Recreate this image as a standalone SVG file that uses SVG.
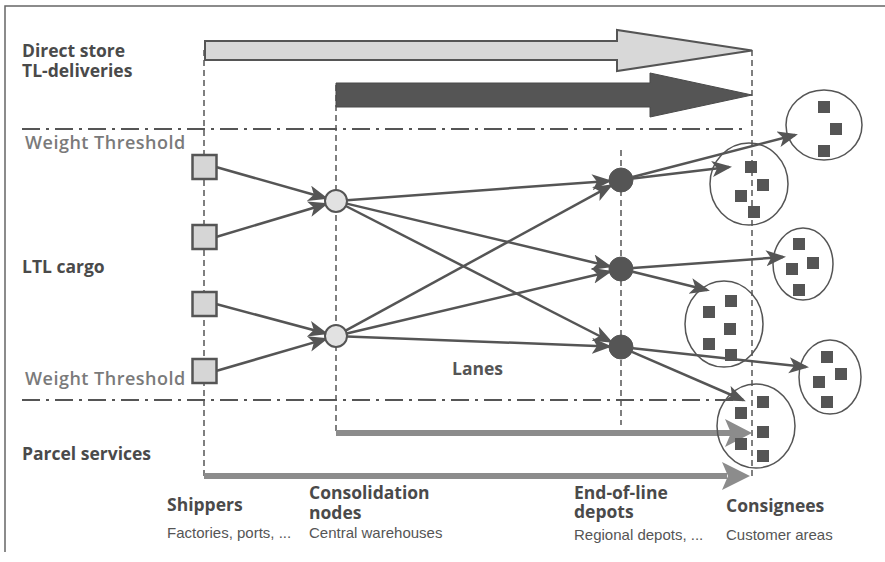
<svg xmlns="http://www.w3.org/2000/svg" width="885" height="562" viewBox="0 0 885 562">
<style>
.lbl{font-family:"Open Sans","DejaVu Sans",sans-serif;font-weight:700;font-size:17.5px;fill:#4a4a4a}
.thr{font-family:"Open Sans","DejaVu Sans",sans-serif;font-weight:600;font-size:18px;letter-spacing:0.5px;fill:#7a7a7a}
.sub{font-family:"Liberation Sans",Arial,sans-serif;font-size:15px;fill:#555}
.vdash{stroke:#555;stroke-width:1.5;stroke-dasharray:6 4;fill:none}
.hdash{stroke:#555;stroke-width:2;stroke-dasharray:18 6 3 6;fill:none}
.lane{stroke:#555;stroke-width:2.5;fill:none;marker-end:url(#ah)}
.ship{fill:#d6d6d6;stroke:#555;stroke-width:2.5}
.cons{fill:#e2e2e2;stroke:#555;stroke-width:2}
.depot{fill:#555;stroke:#555;stroke-width:1}
.area{fill:none;stroke:#555;stroke-width:1.5}
.cust{fill:#555}
</style>
<defs>
<marker id="ah" markerUnits="userSpaceOnUse" markerWidth="22" markerHeight="18" refX="17" refY="8" orient="auto">
<path d="M0,0 L20,8 L0,16 L5,8 Z" fill="#555"/>
</marker>
</defs>

<g id="frame" stroke="#666" stroke-width="1.5" fill="none">
<path d="M5,552 L5,6 L885,6"/>
</g>

<g id="guides">
<path class="vdash" d="M204,50 L204,476"/>
<path class="vdash" d="M336,85 L336,433"/>
<path class="vdash" d="M621,150 L621,425"/>
<path class="vdash" d="M752,50 L752,476"/>
<path class="hdash" d="M22,129 L745,129"/>
<path class="hdash" d="M22,400 L745,400"/>
</g>

<g id="labels">
<text class="lbl" x="22" y="57">Direct store</text>
<text class="lbl" x="22" y="77">TL-deliveries</text>
<text class="thr" x="25" y="149">Weight Threshold</text>
<text class="lbl" x="22" y="273">LTL cargo</text>
<text class="thr" x="25" y="385">Weight Threshold</text>
<text class="lbl" x="22" y="460">Parcel services</text>
<text class="lbl" x="452" y="375" style="fill:#555">Lanes</text>
<text class="lbl" x="167" y="511">Shippers</text>
<text class="lbl" x="309" y="499">Consolidation</text>
<text class="lbl" x="309" y="519">nodes</text>
<text class="lbl" x="574" y="499">End-of-line</text>
<text class="lbl" x="574" y="518">depots</text>
<text class="lbl" x="726" y="512">Consignees</text>
<text class="sub" x="167" y="538">Factories, ports, ...</text>
<text class="sub" x="309" y="538">Central warehouses</text>
<text class="sub" x="574" y="540">Regional depots, ...</text>
<text class="sub" x="726" y="540">Customer areas</text>
</g>

<g id="bigarrows">
<path id="tl-arrow" d="M205,41 L617,41 L617,30 L752,50.5 L617,71 L617,60 L205,60 Z" fill="#d8d8d8" stroke="#555" stroke-width="2"/>
<path id="direct-arrow" d="M336,83 L650,83 L650,73 L752,95 L650,117 L650,107 L336,107 Z" fill="#555" stroke="#4a4a4a" stroke-width="1"/>
<g id="parcel-arrows" fill="#8c8c8c">
<rect x="336" y="430" width="395" height="6"/>
<path d="M725,419 L752,433 L725,447 L731,433 Z"/>
<rect x="204" y="473" width="523" height="6"/>
<path d="M722,462 L750,476 L722,490 L728,476 Z"/>
</g>
</g>

<g id="connectors">
<path class="lane" d="M216,167 L325.4,198"/>
<path class="lane" d="M216,237 L325.5,204.2"/>
<path class="lane" d="M216,304 L325.4,333.2"/>
<path class="lane" d="M216,371 L325.4,339.1"/>
<path class="lane" d="M347,200.2 L609,180.9"/>
<path class="lane" d="M346.7,203.6 L609.3,266.2"/>
<path class="lane" d="M345.8,206 L610.3,341.5"/>
<path class="lane" d="M345.6,330.7 L610.5,185.8"/>
<path class="lane" d="M346.7,333.5 L609.3,271.7"/>
<path class="lane" d="M347,336.4 L609,346.5"/>
<path class="lane" d="M632.6,177 L795,135"/>
<path class="lane" d="M632.9,178.6 L729,167"/>
<path class="lane" d="M633,268.1 L783,257"/>
<path class="lane" d="M632.7,271.8 L707,290"/>
<path class="lane" d="M632.9,348.3 L806,367"/>
<path class="lane" d="M632,351.8 L743,400"/>
</g>

<g id="shippers">
<rect id="shipper1" class="ship" x="192.5" y="155" width="24" height="24"/>
<rect id="shipper2" class="ship" x="192.5" y="225" width="24" height="24"/>
<rect id="shipper3" class="ship" x="192.5" y="292" width="24" height="24"/>
<rect id="shipper4" class="ship" x="192.5" y="359" width="24" height="24"/>
</g>
<g id="consolidation">
<circle id="cons1" class="cons" cx="336" cy="201" r="11"/>
<circle id="cons2" class="cons" cx="336" cy="336" r="11"/>
</g>
<g id="depots">
<circle id="depot1" class="depot" cx="621" cy="180" r="12"/>
<circle id="depot2" class="depot" cx="621" cy="269" r="12"/>
<circle id="depot3" class="depot" cx="621" cy="347" r="12"/>
</g>

<g id="consignee1">
<ellipse class="area" cx="824" cy="125" rx="38" ry="35"/>
<rect class="cust" x="818" y="101" width="12" height="12"/>
<rect class="cust" x="830" y="123" width="12" height="12"/>
<rect class="cust" x="818" y="145" width="12" height="12"/>
</g>
<g id="consignee2">
<ellipse class="area" cx="749" cy="184" rx="39" ry="41"/>
<rect class="cust" x="745" y="161" width="12" height="12"/>
<rect class="cust" x="757" y="179" width="12" height="12"/>
<rect class="cust" x="735" y="190" width="12" height="12"/>
<rect class="cust" x="748" y="206" width="12" height="12"/>
</g>
<g id="consignee3">
<ellipse class="area" cx="803" cy="264" rx="30" ry="36"/>
<rect class="cust" x="793" y="238" width="12" height="12"/>
<rect class="cust" x="807" y="257" width="12" height="12"/>
<rect class="cust" x="786" y="263" width="12" height="12"/>
<rect class="cust" x="793" y="284" width="12" height="12"/>
</g>
<g id="consignee4">
<ellipse class="area" cx="724" cy="324" rx="39" ry="43"/>
<rect class="cust" x="725" y="295" width="12" height="12"/>
<rect class="cust" x="703" y="306" width="12" height="12"/>
<rect class="cust" x="724" y="323" width="12" height="12"/>
<rect class="cust" x="703" y="338" width="12" height="12"/>
<rect class="cust" x="725" y="349" width="12" height="12"/>
</g>
<g id="consignee5">
<ellipse class="area" cx="830" cy="377" rx="31" ry="37"/>
<rect class="cust" x="821" y="351" width="12" height="12"/>
<rect class="cust" x="835" y="368" width="12" height="12"/>
<rect class="cust" x="813" y="376" width="12" height="12"/>
<rect class="cust" x="821" y="396" width="12" height="12"/>
</g>
<g id="consignee6">
<ellipse class="area" cx="756" cy="426" rx="39" ry="42"/>
<rect class="cust" x="757" y="396" width="12" height="12"/>
<rect class="cust" x="735" y="407" width="12" height="12"/>
<rect class="cust" x="757" y="426" width="12" height="12"/>
<rect class="cust" x="735" y="438" width="12" height="12"/>
<rect class="cust" x="757" y="450" width="12" height="12"/>
</g>
</svg>
